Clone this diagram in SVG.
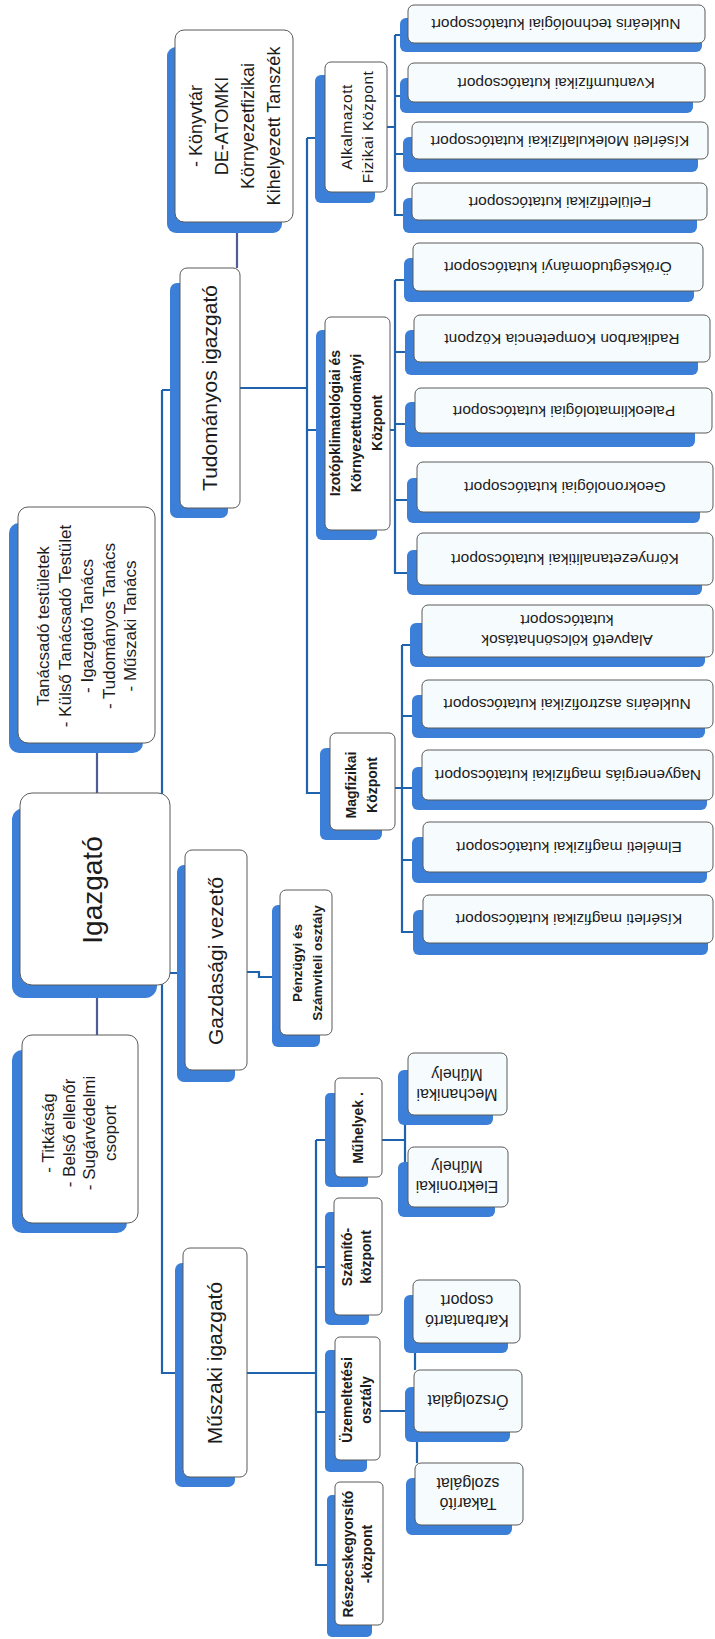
<svg xmlns="http://www.w3.org/2000/svg" width="715" height="1639" viewBox="0 0 715 1639">
<defs>
<style>
.sh{fill:#3b7fd8}
.bx{fill:#ffffff;stroke:#5a5a5a;stroke-width:1}
.lf{fill:#f6fbfe;stroke:#5a5a5a;stroke-width:1}
.cn{stroke:#1f62ae;stroke-width:2.2;fill:none}
.cg{stroke:#4e5c98;stroke-width:2.2;fill:none}
text{font-family:"Liberation Sans",Arial,sans-serif;fill:#1c1c1c;text-anchor:middle}
.t18{font-size:18px}
.t17{font-size:17px}
.t21{font-size:21px}
.t28{font-size:28px}
.b13{font-size:13.5px;font-weight:bold}
.b14{font-size:14px;font-weight:bold}
.r15{font-size:15.5px}
.r16{font-size:16px}
</style>
</defs>
<rect width="715" height="1639" fill="#ffffff"/>

<g id="connectors">
<path class="cg" d="M237,222 V268 M97,743 V793 M97,985 V1035"/>
<path class="cn" d="M162,390 H170 M162,390 V1373 H175 M162,973 H177"/>
<path class="cn" d="M240,388 H307 M307,138 H315 M307,138 V793 H320 M307,430 H316"/>
<path class="cn" d="M387,127 H395 M395,35 H400 M395,35 V215 H403 M395,96 H400 M395,154 H403"/>
<path class="cn" d="M390,430 H395 M395,280 H404 M395,280 V573 H407 M395,352 H405 M395,424 H405 M395,500 H407"/>
<path class="cn" d="M395,788 H402 M402,645 H410 M402,645 V932 H413 M402,716 H412 M402,788 H412 M402,860 H412"/>
<path class="cn" d="M247,972 H259 V977 H272"/>
<path class="cn" d="M247,1373 H316 M316,1140 H325 M316,1140 V1565 H327 M316,1267 H325 M316,1412 H325"/>
<path class="cn" d="M382,1140 H405 M405,1125 V1162"/>
<path class="cn" d="M380,1411 H405 M415,1353 V1370 M417,1442 V1463"/>
</g>

<g id="konyvtar">
<rect class="sh" x="167" y="47" width="115" height="186" rx="9"/>
<rect class="bx" x="175" y="30" width="118" height="192" rx="9"/>
<text class="t18" transform="translate(235,126) rotate(-90)"><tspan x="0" y="-32.7">- Könyvtár</tspan><tspan x="0" dy="26">DE-ATOMKI</tspan><tspan x="0" dy="26">Környezetfizikai</tspan><tspan x="0" dy="26">Kihelyezett Tanszék</tspan></text>
</g>

<g id="tudomanyos-igazgato">
<rect class="sh" x="170" y="283" width="58" height="235" rx="7"/>
<rect class="bx" x="180" y="268" width="60" height="240" rx="7"/>
<text class="t21" transform="translate(210,388) rotate(-90)" y="7.4">Tudományos igazgató</text>
</g>

<g id="tanacsado">
<rect class="sh" x="9" y="523" width="134" height="230" rx="10"/>
<rect class="bx" x="18" y="507" width="137" height="236" rx="10"/>
<text class="t17" transform="translate(87,626) rotate(-90)"><tspan x="0" y="-37.6">Tanácsadó testületek</tspan><tspan x="0" dy="21.7">- Külső Tanácsadó Testület</tspan><tspan x="0" dy="21.7">- Igazgató Tanács</tspan><tspan x="0" dy="21.7">- Tudományos Tanács</tspan><tspan x="0" dy="21.7">- Műszaki Tanács</tspan></text>
</g>

<g id="igazgato">
<rect class="sh" x="12" y="808" width="145" height="190" rx="12"/>
<rect class="bx" x="20" y="793" width="150" height="192" rx="12"/>
<text class="t28" transform="translate(92,890) rotate(-90)" y="10">Igazgató</text>
</g>

<g id="titkarsag">
<rect class="sh" x="12" y="1050" width="115" height="183" rx="10"/>
<rect class="bx" x="22" y="1035" width="116" height="188" rx="10"/>
<text class="t17" transform="translate(79,1133) rotate(-90)"><tspan x="0" y="-25.1">- Titkárság</tspan><tspan x="0" dy="20.7">- Belső ellenőr</tspan><tspan x="0" dy="20.7">- Sugárvédelmi</tspan><tspan x="0" dy="20.7">csoport</tspan></text>
</g>

<g id="gazdasagi-vezeto">
<rect class="sh" x="177" y="865" width="58" height="217" rx="7"/>
<rect class="bx" x="185" y="850" width="62" height="220" rx="7"/>
<text class="t21" transform="translate(216,961) rotate(-90)" y="7.4">Gazdasági vezető</text>
</g>

<g id="penzugyi">
<rect class="sh" x="272" y="905" width="48" height="142" rx="6"/>
<rect class="bx" x="280" y="890" width="52" height="145" rx="6"/>
<text class="b13" transform="translate(307,963) rotate(-90)"><tspan x="0" y="-5.3">Pénzügyi és</tspan><tspan x="0" dy="20">Számviteli osztály</tspan></text>
</g>

<g id="muszaki-igazgato">
<rect class="sh" x="175" y="1263" width="60" height="224" rx="7"/>
<rect class="bx" x="183" y="1248" width="64" height="229" rx="7"/>
<text class="t21" transform="translate(215,1363) rotate(-90)" y="7.4">Műszaki igazgató</text>
</g>

<g id="alkalmazott">
<rect class="sh" x="315" y="75" width="60" height="128" rx="6"/>
<rect class="bx" x="325" y="62" width="62" height="130" rx="6"/>
<text class="r15" transform="translate(357,127) rotate(-90)" style="letter-spacing:0.5px"><tspan x="0" y="-5.2">Alkalmazott</tspan><tspan x="0" dy="21">Fizikai Központ</tspan></text>
</g>

<g id="izotop">
<rect class="sh" x="316" y="330" width="61" height="210" rx="6"/>
<rect class="bx" x="325" y="317" width="65" height="213" rx="6"/>
<text class="b14" transform="translate(356,423) rotate(-90)"><tspan x="0" y="-16.1">Izotópklimatológiai és</tspan><tspan x="0" dy="21">Környezettudományi</tspan><tspan x="0" dy="21">Központ</tspan></text>
</g>

<g id="magfizikai">
<rect class="sh" x="320" y="748" width="62" height="92" rx="6"/>
<rect class="bx" x="330" y="733" width="65" height="97" rx="6"/>
<text class="b14" transform="translate(362,785) rotate(-90)"><tspan x="0" y="-5.6">Magfizikai</tspan><tspan x="0" dy="21">Központ</tspan></text>
</g>

<g id="muhelyek">
<rect class="sh" x="325" y="1093" width="43" height="94" rx="5"/>
<rect class="bx" x="335" y="1078" width="47" height="99" rx="5"/>
<text class="b14" transform="translate(358,1128) rotate(-90)" y="5">Műhelyek .</text>
</g>

<g id="szamito">
<rect class="sh" x="325" y="1212" width="44" height="113" rx="5"/>
<rect class="bx" x="334" y="1198" width="48" height="117" rx="5"/>
<text class="b14" transform="translate(357,1257) rotate(-90)"><tspan x="0" y="-4.6">Számító-</tspan><tspan x="0" dy="19">központ</tspan></text>
</g>

<g id="uzemeltetesi">
<rect class="sh" x="325" y="1350" width="42" height="122" rx="5"/>
<rect class="bx" x="335" y="1337" width="45" height="123" rx="5"/>
<text class="b14" transform="translate(357,1400) rotate(-90)"><tspan x="0" y="-4.6">Üzemeltetési</tspan><tspan x="0" dy="19">osztály</tspan></text>
</g>

<g id="reszecskegyorsito">
<rect class="sh" x="327" y="1495" width="45" height="142" rx="5"/>
<rect class="bx" x="335" y="1482" width="48" height="143" rx="5"/>
<text class="b14" transform="translate(358,1554) rotate(-90)"><tspan x="0" y="-4.6">Részecskegyorsító</tspan><tspan x="0" dy="19">-központ</tspan></text>
</g>

<g id="mechanikai">
<rect class="sh" x="398" y="1070" width="95" height="55" rx="6"/>
<rect class="lf" x="408" y="1053" width="99" height="62" rx="6"/>
<text class="r16" transform="translate(457,1085) rotate(180)"><tspan x="0" y="-4.4">Mechanikai</tspan><tspan x="0" dy="20">Műhely</tspan></text>
</g>

<g id="elektronikai">
<rect class="sh" x="398" y="1162" width="97" height="55" rx="6"/>
<rect class="lf" x="408" y="1147" width="100" height="60" rx="6"/>
<text class="r16" transform="translate(457,1177) rotate(180)"><tspan x="0" y="-4.4">Elektronikai</tspan><tspan x="0" dy="20">Műhely</tspan></text>
</g>

<g id="karbantarto">
<rect class="sh" x="404" y="1295" width="104" height="58" rx="6"/>
<rect class="lf" x="413" y="1280" width="107" height="63" rx="6"/>
<text class="r16" transform="translate(467,1311) rotate(180)"><tspan x="0" y="-4.4">Karbantartó</tspan><tspan x="0" dy="20">csoport</tspan></text>
</g>

<g id="orszolgalat">
<rect class="sh" x="405" y="1387" width="105" height="55" rx="6"/>
<rect class="lf" x="414" y="1370" width="108" height="62" rx="6"/>
<text class="r16" transform="translate(468,1401) rotate(180)" y="5.6">Őrszolgálat</text>
</g>

<g id="takarito">
<rect class="sh" x="406" y="1478" width="106" height="57" rx="6"/>
<rect class="lf" x="415" y="1463" width="108" height="62" rx="6"/>
<text class="r16" transform="translate(468,1494) rotate(180)"><tspan x="0" y="-4.4">Takarító</tspan><tspan x="0" dy="20">szolgálat</tspan></text>
</g>

<g id="nukl-tech">
<rect class="sh" x="400" y="18" width="302" height="34" rx="6"/>
<rect class="lf" x="408" y="5" width="297" height="38" rx="6"/>
<text class="r15" transform="translate(556,24) rotate(180)" y="5.4">Nukleáris technológiai kutatócsoport</text>
</g>

<g id="kvantum">
<rect class="sh" x="400" y="78" width="293" height="35" rx="6"/>
<rect class="lf" x="408" y="63" width="297" height="39" rx="6"/>
<text class="r15" transform="translate(556,83) rotate(180)" y="5.4">Kvantumfizikai  kutatócsoport</text>
</g>

<g id="kiserleti-molekula">
<rect class="sh" x="403" y="137" width="295" height="35" rx="6"/>
<rect class="lf" x="412" y="122" width="296" height="37" rx="6"/>
<text class="r15" transform="translate(560,141) rotate(180)" y="5.4">Kísérleti Molekulafizikai  kutatócsoport</text>
</g>

<g id="feluletfizikai">
<rect class="sh" x="403" y="198" width="294" height="35" rx="6"/>
<rect class="lf" x="412" y="183" width="295" height="37" rx="6"/>
<text class="r15" transform="translate(560,202) rotate(180)" y="5.4">Felületfizikai  kutatócsoport</text>
</g>

<g id="oroksegtudomanyi">
<rect class="sh" x="404" y="258" width="290" height="44" rx="6"/>
<rect class="lf" x="413" y="243" width="290" height="48" rx="6"/>
<text class="r15" transform="translate(558,267) rotate(180)" y="5.4">Örökségtudományi  kutatócsoport</text>
</g>

<g id="radikarbon">
<rect class="sh" x="405" y="330" width="293" height="45" rx="6"/>
<rect class="lf" x="414" y="315" width="296" height="47" rx="6"/>
<text class="r15" transform="translate(562,339) rotate(180)" y="5.4">Radikarbon Kompetencia Központ</text>
</g>

<g id="paleoklimatologiai">
<rect class="sh" x="405" y="402" width="290" height="45" rx="6"/>
<rect class="lf" x="415" y="388" width="297" height="45" rx="6"/>
<text class="r15" transform="translate(564,411) rotate(180)" y="5.4">Paleoklimatológiai kutatócsoport</text>
</g>

<g id="geokronologiai">
<rect class="sh" x="407" y="478" width="293" height="45" rx="6"/>
<rect class="lf" x="417" y="462" width="296" height="50" rx="6"/>
<text class="r15" transform="translate(565,487) rotate(180)" y="5.4">Geokronológiai  kutatócsoport</text>
</g>

<g id="kornyezetanalitikai">
<rect class="sh" x="407" y="550" width="295" height="45" rx="6"/>
<rect class="lf" x="417" y="533" width="296" height="52" rx="6"/>
<text class="r15" transform="translate(565,559) rotate(180)" y="5.4">Környezetanalitikai kutatócsoport</text>
</g>

<g id="alapveto">
<rect class="sh" x="410" y="623" width="295" height="44" rx="6"/>
<rect class="lf" x="422" y="605" width="291" height="52" rx="6"/>
<text class="r15" transform="translate(567,630) rotate(180)"><tspan x="0" y="-4.6">Alapvető kölcsönhatások</tspan><tspan x="0" dy="20">kutatócsoport</tspan></text>
</g>

<g id="nukl-asztro">
<rect class="sh" x="412" y="695" width="293" height="43" rx="6"/>
<rect class="lf" x="422" y="680" width="291" height="48" rx="6"/>
<text class="r15" transform="translate(567,704) rotate(180)" y="5.4">Nukleáris asztrofizikai kutatócsoport</text>
</g>

<g id="nagyenergias">
<rect class="sh" x="412" y="767" width="295" height="43" rx="6"/>
<rect class="lf" x="422" y="750" width="291" height="50" rx="6"/>
<text class="r15" transform="translate(568,775) rotate(180)" y="5.4">Nagyenergiás magfizikai kutatócsoport</text>
</g>

<g id="elmeleti">
<rect class="sh" x="412" y="837" width="295" height="46" rx="6"/>
<rect class="lf" x="423" y="822" width="290" height="50" rx="6"/>
<text class="r15" transform="translate(569,847) rotate(180)" y="5.4">Elméleti magfizikai kutatócsoport</text>
</g>

<g id="kiserleti-mag">
<rect class="sh" x="413" y="910" width="295" height="45" rx="6"/>
<rect class="lf" x="423" y="895" width="290" height="48" rx="6"/>
<text class="r15" transform="translate(569,919) rotate(180)" y="5.4">Kísérleti magfizikai kutatócsoport</text>
</g>
</svg>
